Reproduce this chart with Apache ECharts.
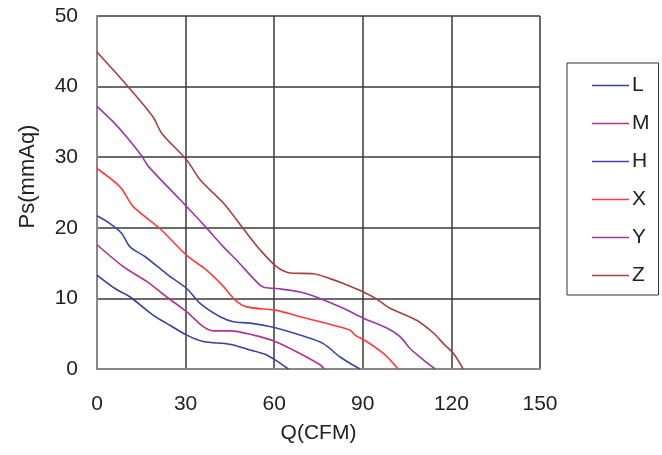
<!DOCTYPE html>
<html><head><meta charset="utf-8">
<script src="https://cdn.jsdelivr.net/npm/echarts@6/dist/echarts.min.js"></script>
<style>html,body{margin:0;padding:0;background:#fff}#c{width:662px;height:455px}</style>
</head><body><div id="c"></div>
<script>
var seriesNames = ['L','M','H','X','Y','Z'];
var colors = ['#3A3F9A','#B8308F','#3D47A8','#FF3B3B','#9B38A6','#A8403F'];

var qL = [0,6.1,11.2,19.1,24.7,30.4,36,45,51.8,56.9,60.3,64.8];
var pL = [13.3,11.4,10.2,7.6,6.2,4.8,3.9,3.5,2.7,2.1,1.3,0];

var qM = [0,8.9,16.8,23.6,30.4,36,39.4,45,53,60.3,68.7,75.5,77];
var pM = [17.6,14.5,12.4,10.2,8.1,6.0,5.4,5.4,4.8,3.9,2.2,0.6,0];

var qH = [0,4.4,8.4,11.2,16.3,24.1,30.4,34.9,41.7,46.2,51.8,59.7,68.7,76.6,82.3,89];
var pH = [21.7,20.6,19.2,17.3,15.9,13.3,11.4,9.3,7.4,6.7,6.5,5.9,4.8,3.6,1.7,0];

var qX = [0,7.8,12.3,21.3,30.4,37.1,42.8,46.7,50.7,60.8,68.7,75.5,80,85.7,87.4,91.3,97,102];
var pX = [28.4,25.8,23.0,19.9,16.1,14.0,11.7,9.8,8.8,8.3,7.4,6.7,6.2,5.5,4.8,3.9,2.2,0];

var qY = [0,5.5,10,15.1,17.4,28.1,36.6,42.8,47.3,53,56.3,60.8,68.7,75.5,83.4,90.2,98.1,102.6,106,110.5,114.5];
var pY = [37.2,35,32.9,30.2,28.7,24.0,20.2,17.3,15.4,12.8,11.6,11.4,10.9,10.0,8.6,7.2,5.8,4.6,2.9,1.3,0];

var qZ = [0,10.5,19,21.9,30.4,34.9,42.8,49.5,55.2,60.8,65.4,73.3,78.9,83.4,90.2,94.7,99.2,108.2,113.9,117.3,120.7,124];
var pZ = [44.9,40,35.7,33.4,29.6,26.8,23.5,19.9,16.9,14.5,13.6,13.5,12.8,12.1,10.9,9.9,8.6,6.9,5.1,3.6,2.2,0];

var qs = [qL,qM,qH,qX,qY,qZ];
var ps = [pL,pM,pH,pX,pY,pZ];

var xTicks = [0,30,60,90,120,150];
var yTicks = [0,10,20,30,40,50];

var font = 'Liberation Sans, Arial, sans-serif';
var chart = echarts.init(document.getElementById('c'));
chart.setOption({
  animation: false,
  grid: {left: 97, right: 122, top: 16, bottom: 86},
  legend: {
    orient: 'vertical', left: 567, top: 63,
    data: seriesNames,
    icon: 'rect',
    itemWidth: 37, itemHeight: 1.5, itemGap: 17,
    padding: [12, 9, 9, 25],
    borderColor: '#333', borderWidth: 1, borderRadius: 0,
    textStyle: {fontFamily: font, fontSize: 21, lineHeight: 16, color: '#222', padding: [0,0,0,-2]}
  },
  xAxis: {
    type: 'value', min: 0, max: 150, interval: 30,
    name: 'Q(CFM)', nameLocation: 'middle', nameGap: 54,
    nameTextStyle: {fontFamily: font, fontSize: 21, color: '#222'},
    axisLabel: {fontFamily: font, fontSize: 21, color: '#222', margin: 25},
    axisLine: {lineStyle: {color: '#888', width: 2}},
    axisTick: {show: false},
    splitLine: {lineStyle: {color: '#3a3a3a', width: 1.5}}
  },
  yAxis: {
    type: 'value', min: 0, max: 50, interval: 10,
    name: 'Ps(mmAq)', nameLocation: 'middle', nameGap: 58, nameRotate: 90,
    nameTextStyle: {fontFamily: font, fontSize: 22, color: '#222', padding: [0,0,0,32]},
    axisLabel: {fontFamily: font, fontSize: 21, color: '#222', margin: 19},
    axisLine: {show: true, lineStyle: {color: '#888', width: 2}},
    axisTick: {show: false},
    splitLine: {lineStyle: {color: '#3a3a3a', width: 1.5}}
  },
  series: seriesNames.map(function(n, i) {
    return {
      name: n, type: 'line', symbol: 'none', smooth: 0.3,
      color: colors[i],
      lineStyle: {width: 1.6, color: colors[i]},
      data: qs[i].map(function(q, j) { return [q, ps[i][j]]; })
    };
  })
});
</script></body></html>
